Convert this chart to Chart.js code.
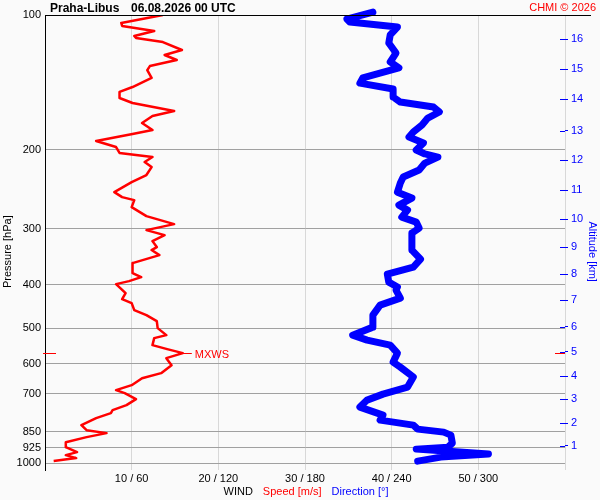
<!DOCTYPE html>
<html>
<head>
<meta charset="utf-8">
<script src="https://cdn.jsdelivr.net/npm/chart.js@4.4.1/dist/chart.umd.min.js"></script>
<style>
body { margin: 0; background: #fafafa; }
canvas { display: block; }
</style>
</head>
<body>
<canvas id="windChart" width="600" height="500"></canvas>
<script>
// wind speed profile (pressure hPa / speed m/s)
var speedPres = [100, 104.2, 105.8, 108.6, 111.4, 112.5, 114.9, 119.7, 122.8, 126.0, 130.0, 132.7, 138.2, 144.8,
    148.5, 153.2, 157.2, 163.8, 168.1, 174.2, 180.6, 184.4, 191.1, 197.1, 203.2, 205.3, 207.5, 212.9, 218.5,
    227.6, 236.0, 239.7, 248.5, 254.9, 258.9, 268.4, 281.1, 292.9, 302.0, 309.9, 319.6, 329.5, 334.6, 343.4,
    357.8, 376.6, 384.5, 392.5, 398.6, 417.5, 430.5, 439.5, 455.6, 467.5, 482.2, 499.8, 518.1, 526.1, 545.4,
    556.7, 568.3, 583.1, 604.5, 629.8, 646.3, 670.0, 687.4, 698.0, 719.8, 742.4, 761.7, 773.5, 793.7, 822.7,
    844.2, 857.2, 875.0, 898.0, 921.4, 945.0, 959.7, 974.5, 989.7];
var speedVals = [13.6, 8.8, 8.9, 12.6, 10.3, 10.5, 13.6, 15.8, 13.8, 15.2, 12.1, 11.8, 12.3, 10.1,
    8.6, 8.6, 10.1, 14.9, 12.4, 11.2, 12.4, 10.1, 5.9, 8.2, 8.6, 10.5, 12.4, 11.5, 12.3,
    11.7, 10.0, 9.4, 8.0, 8.9, 10.3, 10.0, 11.7, 14.9, 11.7, 13.8, 12.4, 12.9, 12.3, 13.2,
    10.1, 10.1, 11.1, 9.7, 8.2, 9.3, 8.9, 10.0, 10.3, 11.7, 12.9, 13.0, 14.0, 12.6, 12.4,
    14.1, 15.9, 14.0, 14.6, 13.4, 11.2, 10.0, 8.2, 9.2, 10.5, 9.4, 7.8, 7.6, 5.9, 4.2,
    4.8, 7.1, 4.8, 2.4, 2.4, 3.7, 2.4, 3.6, 1.0];

// wind direction profile (pressure hPa / direction deg)
var dirPres = [98.5, 102.1, 103.7, 106.4, 110.8, 115.5, 121.6, 127.3, 131.3, 138.2, 141.9, 146.3, 152.4, 156.4,
    160.5, 164.6, 169.8, 176.0, 182.4, 187.2, 193.0, 200.1, 204.2, 207.5, 214.0, 221.8, 229.9, 237.1, 248.5,
    256.2, 265.6, 272.5, 282.5, 289.9, 298.9, 306.7, 329.5, 334.6, 350.5, 365.1, 378.6, 394.5, 404.7, 411.0,
    428.3, 444.0, 467.5, 497.2, 518.1, 531.5, 545.4, 568.3, 595.2, 610.7, 642.7, 676.7, 701.5, 723.4, 749.9,
    781.5, 801.8, 822.7, 839.8, 852.8, 866.0, 902.6, 921.4, 930.6, 940.2, 954.8, 969.6, 989.7];
var dirVals = [227, 209, 211, 244, 239, 238, 243, 239, 245, 220, 218, 241, 241, 246,
    269, 273, 265, 261, 255, 252, 262, 257, 263, 272, 263, 259, 248, 246, 244,
    254, 245, 251, 247, 257, 259, 254, 254, 254, 260, 255, 237, 238, 244, 243,
    246, 232, 227, 227, 213, 223, 239, 244, 241, 246, 255, 251, 234, 223, 218,
    234, 232, 255, 258, 276, 281, 282, 279, 257, 277, 307, 274, 258];

// axes
var presTicks = [100, 200, 300, 400, 500, 600, 700, 850, 925, 1000];
var speedTicks = [0, 10, 20, 30, 40, 50, 60];
var altKm = [16, 15, 14, 13, 12, 11, 10, 9, 8, 7, 6, 5, 4, 3, 2, 1];
var altPres = [113.3, 132.2, 154.2, 181.2, 211.1, 246.2, 285.8, 330.0, 379.2, 433.3, 496.5, 564.5, 640.4, 720.7, 814.0, 915.0];

var speedData = speedPres.map(function (p, i) { return { x: speedVals[i], y: p }; });
var dirData = dirPres.map(function (p, i) { return { x: dirVals[i], y: p }; });

var decor = {
    id: "decor",
    beforeDraw: function (chart) {
        var ctx = chart.ctx;
        ctx.save();
        ctx.fillStyle = "#fafafa";
        ctx.fillRect(0, 0, chart.width, chart.height);
        ctx.restore();
    },
    afterDraw: function (chart) {
        var ctx = chart.ctx, a = chart.chartArea;
        var xs = chart.scales.x, ys = chart.scales.y, alt = chart.scales.alt;
        ctx.save();

        // top frame line
        ctx.strokeStyle = "#000";
        ctx.lineWidth = 1;
        ctx.beginPath();
        ctx.moveTo(a.left, a.top + 0.5);
        ctx.lineTo(591, a.top + 0.5);
        ctx.stroke();

        // inner part of altitude ticks
        ctx.strokeStyle = "#0000ff";
        alt.ticks.forEach(function (t) {
            var y = Math.round(alt.getPixelForValue(t.value)) + 0.5;
            ctx.beginPath();
            ctx.moveTo(a.right - 5, y);
            ctx.lineTo(a.right, y);
            ctx.stroke();
        });

        // max wind marker
        var iMax = 0;
        speedVals.forEach(function (v, i) { if (v > speedVals[iMax]) iMax = i; });
        var mx = xs.getPixelForValue(speedVals[iMax]);
        var my = Math.round(ys.getPixelForValue(speedPres[iMax])) + 0.5;
        ctx.strokeStyle = "#ff0000";
        ctx.beginPath();
        ctx.moveTo(a.left - 2, my); ctx.lineTo(a.left + 11, my);
        ctx.moveTo(a.right - 10, my); ctx.lineTo(a.right, my);
        ctx.moveTo(mx, my); ctx.lineTo(mx + 9, my);
        ctx.stroke();
        ctx.fillStyle = "#ff0000";
        ctx.font = "11px 'Liberation Sans', Arial, sans-serif";
        ctx.textBaseline = "middle";
        ctx.fillText("MXWS", mx + 12, my + 1);

        // header
        ctx.textBaseline = "alphabetic";
        ctx.fillStyle = "#000";
        ctx.font = "bold 12px 'Liberation Sans', Arial, sans-serif";
        ctx.fillText("Praha-Libus", 50, 12);
        ctx.fillText("06.08.2026 00 UTC", 131, 12);
        ctx.fillStyle = "#ff0000";
        ctx.font = "11px 'Liberation Sans', Arial, sans-serif";
        ctx.textAlign = "right";
        ctx.fillText("CHMI \u00a9 2026", 596, 11);

        // x axis title in three colours
        ctx.textAlign = "left";
        var parts = [["WIND", "#000"], ["Speed [m/s]", "#ff0000"], ["Direction [\u00b0]", "#0000ff"]];
        var gap = 10, total = 0;
        parts.forEach(function (p) { total += ctx.measureText(p[0]).width; });
        total += gap * (parts.length - 1);
        var x = (a.left + a.right) / 2 - total / 2 + 1;
        parts.forEach(function (p) {
            ctx.fillStyle = p[1];
            ctx.fillText(p[0], x, 495);
            x += ctx.measureText(p[0]).width + gap;
        });
        ctx.restore();
    }
};

var tickFont = { family: "'Liberation Sans', Arial, sans-serif", size: 11 };

new Chart("windChart", {
    type: "scatter",
    data: {
        datasets: [
            {
                label: "Speed",
                data: speedData,
                xAxisID: "x",
                yAxisID: "y",
                showLine: true,
                borderColor: "#ff0000",
                borderWidth: 2.5,
                pointRadius: 0,
                borderJoinStyle: "round",
            },
            {
                label: "Direction",
                data: dirData,
                xAxisID: "xDir",
                yAxisID: "y",
                showLine: true,
                borderColor: "#0000ff",
                borderWidth: 7,
                pointRadius: 0,
                borderCapStyle: "round",
                borderJoinStyle: "round",
                clip: false,
            },
        ],
    },
    options: {
        responsive: false,
        animation: false,
        devicePixelRatio: 1,
        layout: { padding: { top: 15, left: 0, right: 0, bottom: 0 } },
        plugins: {
            legend: { display: false },
            tooltip: { enabled: false },
        },
        scales: {
            x: {
                type: "linear",
                position: "bottom",
                min: 0,
                max: 60,
                afterFit: function (s) { s.height = 30; },
                afterBuildTicks: function (s) {
                    s.ticks = speedTicks.map(function (v) { return { value: v }; });
                },
                ticks: {
                    autoSkip: false,
                    maxRotation: 0,
                    padding: 2,
                    color: "#000",
                    font: tickFont,
                    callback: function (v) {
                        return v > 0 && v < 60 ? v + " / " + v * 6 : "";
                    },
                },
                grid: { color: "#d8d8d8", drawTicks: false },
                border: { display: false },
            },
            xDir: {
                type: "linear",
                min: 0,
                max: 360,
                display: false,
            },
            y: {
                type: "logarithmic",
                position: "left",
                reverse: true,
                min: 100,
                max: 1036,
                afterFit: function (s) { s.width = 45; },
                afterBuildTicks: function (s) {
                    s.ticks = presTicks.map(function (v) { return { value: v }; });
                },
                ticks: {
                    autoSkip: false,
                    padding: 4,
                    color: "#000",
                    font: tickFont,
                    callback: function (v) { return String(v); },
                },
                grid: { color: "#a0a0a0", drawTicks: false },
                border: { color: "#000" },
                title: {
                    display: true,
                    // trailing spaces push the rotated text a little lower, as in the original
                    text: "Pressure [hPa]      ",
                    color: "#000",
                    font: tickFont,
                    padding: 1,
                },
            },
            alt: {
                type: "logarithmic",
                position: "right",
                reverse: true,
                min: 100,
                max: 1036,
                afterFit: function (s) { s.width = 35; },
                afterBuildTicks: function (s) {
                    s.ticks = altPres.map(function (v) { return { value: v }; });
                },
                ticks: {
                    autoSkip: false,
                    padding: 3,
                    color: "#0000ff",
                    font: tickFont,
                    callback: function (v, i) { return String(altKm[i]); },
                },
                grid: { drawOnChartArea: false, color: "#0000ff", tickLength: 3 },
                border: { display: false },
                title: {
                    display: true,
                    text: "      Altitude [km]",
                    color: "#0000ff",
                    font: tickFont,
                    padding: 1,
                },
            },
        },
    },
    plugins: [decor],
});
</script>
</body>
</html>
